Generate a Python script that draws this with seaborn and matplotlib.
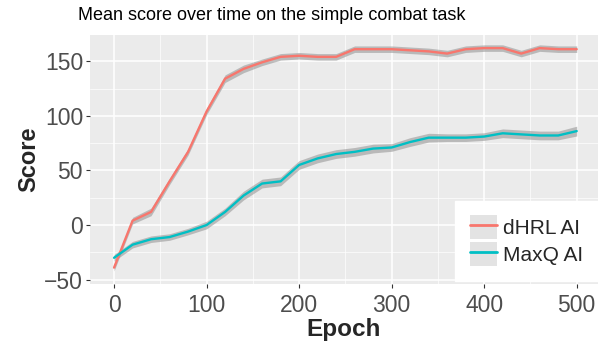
import numpy as np
import pandas as pd
import matplotlib
matplotlib.use("Agg")
import matplotlib.pyplot as plt
from matplotlib.patches import Patch
from matplotlib.legend_handler import HandlerTuple
import seaborn as sns

# data
epochs = [0, 20, 40, 60, 80, 100, 120, 140, 160, 180, 200, 220, 240,
          260, 280, 300, 320, 340, 360, 380, 400, 420, 440, 460, 480, 500]
dhrl = [-39, 4, 12, 40, 67, 104, 134, 143, 149, 154, 155, 154, 154,
        161, 161, 161, 160, 159, 157, 161, 162, 162, 157, 162, 161, 161]
maxq = [-30, -18, -13, -11, -6, 0, 12, 27, 38, 40, 55, 61, 65,
        67, 70, 71, 76, 80, 80, 80, 81, 84, 83, 82, 82, 86]
dhrl_se = [3, 3, 3.5, 3, 3, 3, 3.5, 3.5, 3, 3, 3, 3, 3,
           3, 3, 3, 3, 3, 3, 3, 3, 3, 3, 3, 3, 3]
maxq_se = [3, 3, 3, 3, 3, 3.5, 3.5, 4, 4, 4, 4, 4, 4,
           4, 4, 3.5, 4, 4, 3.5, 3.5, 3.5, 4, 4, 4, 4, 4.5]
names = ["dHRL AI", "MaxQ AI"]
colors = ["#F8766D", "#00BFC4"]

df = pd.DataFrame({
    "Epoch": epochs * 2,
    "Score": dhrl + maxq,
    "agent": [names[0]] * len(epochs) + [names[1]] * len(epochs),
})

sns.set_theme(style="darkgrid", rc={
    "axes.facecolor": "#EBEBEB",
    "grid.color": "white",
    "axes.edgecolor": "#EBEBEB",
})
plt.rcParams["font.family"] = ["Liberation Sans", "DejaVu Sans"]

fig = plt.figure(figsize=(6.13, 3.5), dpi=100)
ax = fig.add_axes([90 / 613, 1 - 284 / 350, 508 / 613, 249 / 350])

# ribbons first, then lines on top
for y, se in [(dhrl, dhrl_se), (maxq, maxq_se)]:
    y = np.array(y, dtype=float)
    se = np.array(se, dtype=float)
    ax.fill_between(epochs, y - se, y + se, color="#999999", alpha=0.6, lw=0)

sns.lineplot(data=df, x="Epoch", y="Score", hue="agent", palette=colors,
             linewidth=1.7, errorbar=None, ax=ax, legend=False)

ax.set_xlim(-26, 523)
ax.set_ylim(-54, 174)
ax.set_xticks([0, 100, 200, 300, 400, 500])
ax.set_yticks([-50, 0, 50, 100, 150])
ax.set_xticks([50, 150, 250, 350, 450], minor=True)
ax.set_yticks([-25, 25, 75, 125], minor=True)
ax.grid(which="major", color="white", lw=1.1)
ax.grid(which="minor", color="white", lw=0.5)
ax.tick_params(which="major", axis="both", labelsize=16.5, labelcolor="#4D4D4D",
               color="#333333", length=3, width=0.8, direction="out",
               bottom=True, left=True, pad=2)
ax.tick_params(which="major", axis="x", pad=4)
ax.tick_params(which="minor", length=0)
for s in ax.spines.values():
    s.set_visible(False)

ax.set_xlabel("Epoch", fontsize=17.5, fontweight="bold", labelpad=1)
ax.set_ylabel("Score", fontsize=17, fontweight="bold", labelpad=3)

fig.text(78 / 613, 1 - 15 / 350, "Mean score over time on the simple combat task",
         fontsize=13, va="center", ha="left", color="black")

handles = []
for c in colors:
    key = Patch(facecolor="#E3E3E3", edgecolor="none")
    ln = plt.Line2D([], [], color=c, lw=2)
    handles.append((key, ln))
leg = ax.legend(handles, names, handler_map={tuple: HandlerTuple(ndivide=1)},
                loc="lower right", bbox_to_anchor=(1.0, 0.012),
                fontsize=15, frameon=True, fancybox=False, borderaxespad=0,
                handlelength=1.3, handleheight=1.4, handletextpad=0.3,
                borderpad=0.7, labelspacing=0.15)
leg.get_frame().set_facecolor("white")
leg.get_frame().set_edgecolor("white")
leg.get_frame().set_alpha(1)

fig.savefig("out.png", dpi=100)
